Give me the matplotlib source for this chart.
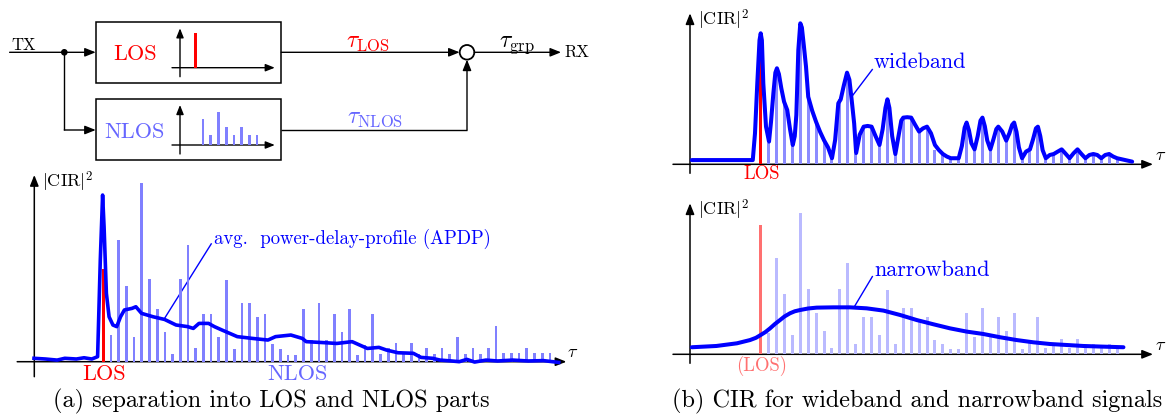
import numpy as np
import matplotlib
matplotlib.use('Agg')
import matplotlib.pyplot as plt
from matplotlib.patches import Rectangle, Circle

plt.rcParams['font.family'] = ['cmr10', 'DejaVu Serif']
plt.rcParams['mathtext.fontset'] = 'cm'
plt.rcParams['axes.formatter.use_mathtext'] = True

W, H = 1172, 420

# --- data -------------------------------------------------------------
# NLOS multipath taps (relative power, tap index after the LOS tap)
nlos_taps = np.arange(1, 59)
nlos_power = [0.15, 0.68, 0.425, 0.137, 1.0, 0.46, 0.296, 0.168, 0.043, 0.46,
              0.65, 0.075, 0.265, 0.265, 0.137, 0.455, 0.073, 0.33, 0.33, 0.25,
              0.265, 0.10, 0.073, 0.04, 0.04, 0.295, 0.12, 0.33, 0.12, 0.265,
              0.168, 0.295, 0.04, 0.095, 0.267, 0.042, 0.075, 0.107, 0.042, 0.107,
              0.042, 0.075, 0.042, 0.075, 0.042, 0.14, 0.043, 0.074, 0.043, 0.074,
              0.2, 0.046, 0.046, 0.046, 0.074, 0.046, 0.046, 0.046]
n_right = 45  # taps shown in (b)

los_power_a = 0.52
los_power_b = 0.92

# averaged power-delay-profile
apdp_tau = [-9.0, -7.5, -6.0, -5.0, -3.5, -2.5, -1.5, -0.74, -0.39, -0.09,
            0.1, 0.4, 0.75, 1.25, 1.74, 2.24, 2.74, 3.73, 4.23, 4.97,
            6.47, 7.96, 9.45, 10.94, 11.69, 12.43, 13.67, 14.42, 15.41, 17.4,
            19.39, 21.38, 22.37, 24.36, 25.85, 26.35, 28.83, 30.32, 32.31, 33.3,
            34.3, 35.79, 36.78, 38.27, 40.26, 41.26, 42.75, 43.74, 45.23, 46.22,
            47.22, 48.22, 49.7, 51.2, 53.18, 55.17, 57.16, 59.15]
apdp_power = [0.019, 0.015, 0.009, 0.019, 0.015, 0.022, 0.015, 0.028, 0.568, 0.931,
              0.754, 0.382, 0.251, 0.205, 0.196, 0.251, 0.289, 0.298, 0.307, 0.270,
              0.251, 0.236, 0.205, 0.196, 0.186, 0.214, 0.214, 0.196, 0.177, 0.140,
              0.130, 0.121, 0.140, 0.149, 0.130, 0.112, 0.106, 0.102, 0.112, 0.093,
              0.074, 0.080, 0.065, 0.050, 0.047, 0.024, 0.019, 0.009, 0.004, 0.0,
              0.013, -0.002, 0.009, 0.004, 0.009, 0.004, 0.006, -0.004]

# wideband CIR magnitude
wb_tau = [-8.7, -1.0, -0.72, -0.43, -0.15, 0.0, 0.15, 0.33, 0.67, 1.05,
          1.3, 1.6, 1.85, 2.05, 2.3, 2.6, 2.95, 3.35, 3.7, 4.05,
          4.3, 4.5, 4.75, 5.0, 5.2, 5.45, 5.72, 6.0, 6.5, 7.0,
          7.5, 8.0, 8.5, 9.0, 9.4, 9.8, 10.1, 10.5, 10.9, 11.2,
          11.5, 11.8, 12.05, 12.5, 13.0, 13.5, 14.0, 14.5, 15.0, 15.4,
          15.75, 16.0, 16.25, 16.6, 17.0, 17.4, 17.75, 18.0, 18.5, 19.0,
          19.5, 20.0, 20.5, 21.0, 21.5, 22.0, 22.5, 23.0, 23.5, 24.0,
          25.0, 25.4, 25.75, 26.0, 26.3, 26.6, 27.0, 27.4, 27.75, 28.0,
          28.3, 28.6, 29.0, 29.4, 29.75, 30.0, 30.5, 31.0, 31.4, 31.75,
          32.0, 32.3, 32.6, 33.0, 33.5, 34.0, 34.4, 34.75, 35.0, 35.3,
          35.6, 36.0, 36.5, 37.0, 37.5, 38.0, 38.5, 39.0, 39.5, 40.0,
          40.5, 41.0, 41.5, 42.0, 42.5, 43.0, 43.5, 44.0, 44.5, 45.0,
          46.9]
wb_power = [0.030, 0.030, 0.22, 0.574, 0.88, 0.929, 0.88, 0.574, 0.267, 0.161,
            0.30, 0.504, 0.65, 0.681, 0.64, 0.54, 0.444, 0.385, 0.25, 0.137,
            0.20, 0.35, 0.81, 1.0, 0.97, 0.84, 0.693, 0.479, 0.38, 0.30,
            0.23, 0.17, 0.12, 0.043, 0.173, 0.433, 0.46, 0.56, 0.65, 0.60,
            0.45, 0.29, 0.08, 0.21, 0.267, 0.272, 0.267, 0.20, 0.137, 0.25,
            0.40, 0.461, 0.40, 0.20, 0.073, 0.20, 0.31, 0.331, 0.334, 0.331,
            0.28, 0.232, 0.255, 0.267, 0.22, 0.137, 0.101, 0.073, 0.055, 0.043,
            0.043, 0.13, 0.26, 0.296, 0.24, 0.15, 0.106, 0.20, 0.31, 0.331,
            0.27, 0.17, 0.106, 0.18, 0.25, 0.267, 0.232, 0.168, 0.22, 0.28,
            0.296, 0.23, 0.12, 0.043, 0.09, 0.106, 0.18, 0.255, 0.267, 0.20,
            0.10, 0.043, 0.066, 0.073, 0.09, 0.106, 0.075, 0.043, 0.078, 0.106,
            0.073, 0.043, 0.066, 0.073, 0.066, 0.043, 0.066, 0.073, 0.055, 0.043,
            0.019]

# narrowband CIR magnitude
nb_tau = [-8.7, -5.6, -3.0, -1.35, -0.6, 0.0, 0.6, 1.18, 1.8, 2.44,
          3.0, 3.7, 4.3, 4.97, 6.0, 7.07, 9.18, 11.28, 13.38, 15.49,
          17.59, 19.7, 21.8, 23.91, 26.01, 28.11, 30.22, 32.32, 34.43, 36.53,
          38.64, 40.74, 42.85, 45.8]
nb_power = [0.050, 0.059, 0.078, 0.101, 0.117, 0.137, 0.158, 0.184, 0.215, 0.243,
            0.268, 0.291, 0.305, 0.314, 0.325, 0.331, 0.333, 0.333, 0.326, 0.310,
            0.279, 0.243, 0.213, 0.184, 0.161, 0.144, 0.121, 0.101, 0.085, 0.073,
            0.066, 0.059, 0.055, 0.050]

# little CIR sketches inside the channel boxes
mini_los_tap = [2]
mini_los_power = [1.03]
mini_nlos_taps = np.arange(3, 11)
mini_nlos_power = [0.78, 0.3, 1.0, 0.53, 0.3, 0.53, 0.3, 0.3]

# --- colours ----------------------------------------------------------
RED = '#ff0000'
RED_LIGHT = '#ff7070'
BLUE = '#0000ff'
BLUE_TXT = '#6666ff'
BAR_A = '#8080ff'
BAR_WB = '#8c8cff'
BAR_NB = '#babaff'

fig = plt.figure(figsize=(W / 100, H / 100), dpi=100)

canvas = fig.add_axes([0, 0, 1, 1])
canvas.set_xlim(0, W)
canvas.set_ylim(H, 0)
canvas.axis('off')


def px_axes(box, x0, dx, y0, dy):
    # axes on pixel box (left, top, right, bottom); data origin at pixel (x0, y0)
    l, t, r, b = box
    ax = fig.add_axes([l / W, 1 - b / H, (r - l) / W, (b - t) / H])
    ax.set_xlim((l - x0) / dx, (r - x0) / dx)
    ax.set_ylim((y0 - b) / dy, (y0 - t) / dy)
    ax.axis('off')
    return ax


def arrow(p0, p1, lw=1.0, ms=13):
    canvas.annotate('', xy=p1, xytext=p0,
                    arrowprops=dict(arrowstyle='-|>,head_length=0.5,head_width=0.2',
                                    color='k', lw=lw, shrinkA=0, shrinkB=0,
                                    mutation_scale=ms))


def line(xs, ys, lw=1.0, color='k'):
    canvas.plot(xs, ys, color=color, lw=lw, solid_capstyle='butt')


def txt(x, y, s, size, color='k', ha='left', va='baseline'):
    canvas.text(x, y, s, fontsize=size, color=color, ha=ha, va=va)


# --- block diagram ----------------------------------------------------
txt(11.5, 50, 'TX', 12)
arrow((9.6, 52.3), (95.7, 52.3))
canvas.add_patch(Circle((64.3, 52.3), 2.6, color='k', zorder=3))
line([64.3, 64.3], [52.3, 130])
arrow((64.3, 130), (95.7, 130))

canvas.add_patch(Rectangle((95.7, 21.7), 185.6, 61, fill=False, lw=1.1, ec='k'))
canvas.add_patch(Rectangle((95.7, 99), 185.6, 61, fill=False, lw=1.1, ec='k'))
txt(135.4, 60, 'LOS', 16, RED, ha='center')
txt(134.3, 138.3, 'NLOS', 16, BLUE_TXT, ha='center')

for y_base, y_top in [(67.7, 28.3), (145, 105)]:
    arrow((172, y_base), (274.8, y_base), lw=1.0, ms=11)
    arrow((180, y_base + 9), (180, y_top), lw=1.0, ms=11)

ax_m1 = px_axes((170, 24, 280, 80), 180, 7.7, 67.7, 33.3)
ax_m1.bar(mini_los_tap, mini_los_power, width=0.4, color=RED)
ax_m2 = px_axes((170, 101, 280, 157), 180, 7.7, 145, 33.3)
ax_m2.bar(mini_nlos_taps, mini_nlos_power, width=0.36, color=BAR_A)

arrow((281.3, 52.3), (459.6, 52.3))
canvas.add_patch(Circle((467, 52.3), 7.3, fill=False, lw=1.3, ec='k'))
arrow((474.3, 52.3), (561, 52.3))
txt(564.5, 57.3, 'RX', 12)
line([281.3, 467], [130, 130])
arrow((467, 130), (467, 59.6))

txt(368, 46.7, r'$\tau_{\mathrm{LOS}}$', 17, RED, ha='center')
txt(375, 122.7, r'$\tau_{\mathrm{NLOS}}$', 17, BLUE_TXT, ha='center')
txt(516.7, 46.7, r'$\tau_{\mathrm{grp}}$', 17, 'k', ha='center')

# --- (a) LOS / NLOS separation ----------------------------------------
ax_a = px_axes((5, 165, 600, 392), 103.3, 7.7, 361.7, 179)
ax_a.bar(nlos_taps, nlos_power, width=0.36, color=BAR_A, zorder=2)
ax_a.bar([0], [los_power_a], width=0.45, color=RED, zorder=3)
ax_a.plot(apdp_tau, apdp_power, color=BLUE, lw=2.6, zorder=4,
          solid_joinstyle='round')

arrow((17.2, 361.7), (566.4, 361.7), lw=1.1)
arrow((34.3, 376.7), (34.3, 175), lw=1.1)
txt(41.7, 187, r'$|\mathrm{CIR}|^2$', 13)
txt(567, 357, r'$\tau$', 13)
txt(104, 380, 'LOS', 16, RED, ha='center')
txt(297.6, 380, 'NLOS', 16, BLUE_TXT, ha='center')
txt(213.5, 244, 'avg.  power-delay-profile (APDP)', 13.5, BLUE)
line([164.6, 211.6], [318.3, 243.3], lw=1.0, color=BLUE)

# --- (b) wideband vs narrowband ---------------------------------------
ax_wb = px_axes((655, 2, 1172, 185), 760.7, 7.92, 164.3, 141)
ax_wb.bar(nlos_taps[:n_right], nlos_power[:n_right], width=0.38, color=BAR_WB, zorder=2)
ax_wb.bar([0], [los_power_b], width=0.4, color=RED, zorder=3)
ax_wb.plot(wb_tau, wb_power, color=BLUE, lw=2.9, zorder=4,
           solid_joinstyle='round', solid_capstyle='round')

ax_nb = px_axes((655, 192, 1172, 378), 760.7, 7.92, 354.3, 141)
ax_nb.bar(nlos_taps[:n_right], nlos_power[:n_right], width=0.38, color=BAR_NB, zorder=2)
ax_nb.bar([0], [los_power_b], width=0.4, color=RED_LIGHT, zorder=3)
ax_nb.plot(nb_tau, nb_power, color=BLUE, lw=2.9, zorder=4,
           solid_joinstyle='round', solid_capstyle='round')

for y_base, y_top in [(164.3, 13.3), (354.3, 203.3)]:
    arrow((673, y_base), (1153, y_base), lw=1.1)
    arrow((690, y_base + 9), (690, y_top), lw=1.1)
    txt(1155, y_base - 4, r'$\tau$', 13)
    txt(698, y_top + 12, r'$|\mathrm{CIR}|^2$', 13)

txt(761.7, 179, 'LOS', 13.5, RED, ha='center')
txt(761.7, 371, '(LOS)', 13.5, RED_LIGHT, ha='center')
txt(874, 68, 'wideband', 16, BLUE)
line([851.7, 872.7], [96.7, 69], lw=1.0, color=BLUE)
txt(874, 276, 'narrowband', 16, BLUE)
line([854, 872.7], [307.3, 276], lw=1.0, color=BLUE)

# --- captions ---------------------------------------------------------
txt(271, 407, '(a) separation into LOS and NLOS parts', 17.5, ha='center')
txt(917.5, 407, '(b) CIR for wideband and narrowband signals', 17.5, ha='center')

fig.savefig('out.png', dpi=100)
